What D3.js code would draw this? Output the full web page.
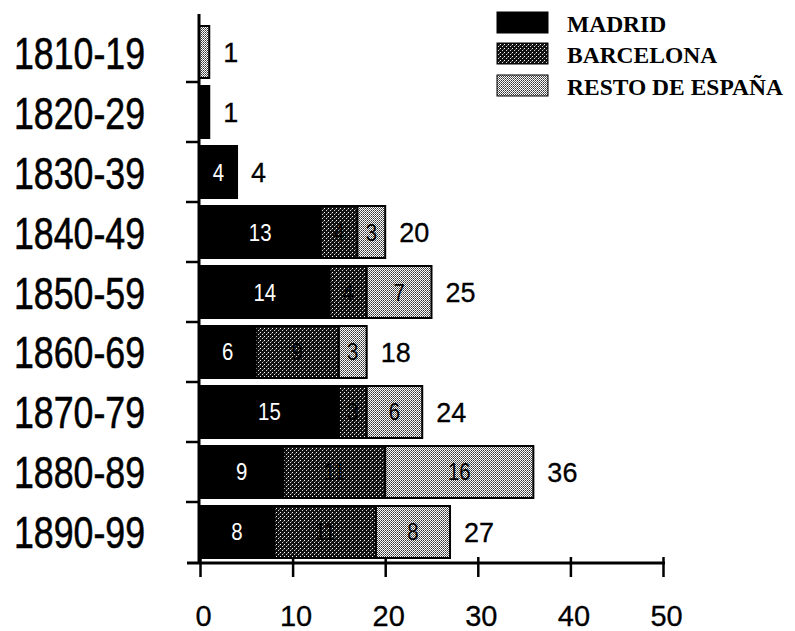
<!DOCTYPE html>
<html><head><meta charset="utf-8">
<script src="https://cdn.jsdelivr.net/npm/d3@7"></script>
<style>body{margin:0;background:#fff} svg{display:block}</style>
</head><body><svg id="c" width="795" height="631"></svg>
<script>
const categories = ["1810-19","1820-29","1830-39","1840-49","1850-59","1860-69","1870-79","1880-89","1890-99"];
const madrid    = [0, 1, 4, 13, 14, 6, 15, 9, 8];
const barcelona = [0, 0, 0, 4, 4, 9, 3, 11, 11];
const resto     = [1, 0, 0, 3, 7, 3, 6, 16, 8];
const totals    = [1, 1, 4, 20, 25, 18, 24, 36, 27];
const seriesNames = ["MADRID", "BARCELONA", "RESTO DE ESPAÑA"];
const xTicks = [0, 10, 20, 30, 40, 50];

const svg = d3.select("#c");
const defs = svg.append("defs");
// Barcelona texture: dark with sparse white dots
const pb = defs.append("pattern").attr("id","pBar").attr("patternUnits","userSpaceOnUse").attr("width",4).attr("height",4);
pb.append("rect").attr("width",4).attr("height",4).attr("fill","#111");
pb.append("rect").attr("x",0).attr("y",0).attr("width",1).attr("height",1).attr("fill","#fff");
pb.append("rect").attr("x",2).attr("y",2).attr("width",1).attr("height",1).attr("fill","#ddd");
pb.append("rect").attr("x",3).attr("y",1).attr("width",1).attr("height",1).attr("fill","#666");
// Resto texture: light with dense dark dots
const pr = defs.append("pattern").attr("id","pRes").attr("patternUnits","userSpaceOnUse").attr("width",2).attr("height",2);
pr.append("rect").attr("width",2).attr("height",2).attr("fill","#fff");
pr.append("rect").attr("x",1).attr("y",0).attr("width",1).attr("height",1).attr("fill","#333");
pr.append("rect").attr("x",0).attr("y",1).attr("width",1).attr("height",1).attr("fill","#666");

const fills = ["#000", "url(#pBar)", "url(#pRes)"];

const x = d3.scaleLinear().domain([0, 50]).range([200, 663]);
const y = d3.scaleBand().domain(categories).range([22, 562]).paddingInner(0.1333).paddingOuter(0.0667);

const rows = categories.map((c, i) => ({cat: c, m: madrid[i], b: barcelona[i], r: resto[i], t: totals[i]}));
const stack = d3.stack().keys(["m","b","r"]);
const layers = stack(rows);

const sansFont = "'Liberation Sans', Arial, Helvetica, sans-serif";

// bars
layers.forEach((layer, li) => {
  svg.append("g").selectAll("rect").data(layer.filter(d => d[1] - d[0] > 0)).join("rect")
    .attr("x", d => x(d[0]) - (d[0] === 0 ? 1 : 0))
    .attr("y", d => y(d.data.cat))
    .attr("width", d => x(d[1]) - x(d[0]) + (d[0] === 0 ? 1 : 0))
    .attr("height", y.bandwidth())
    .attr("fill", fills[li])
    .attr("stroke", "#000").attr("stroke-width", 2);
});

// inner labels
const condense = (sel, f) => sel.each(function(){ const w = this.getComputedTextLength(); d3.select(this).attr("textLength", w*f).attr("lengthAdjust","spacingAndGlyphs"); });
const labelColors = ["#fff", "#000", "#000"];
layers.forEach((layer, li) => {
  svg.append("g").selectAll("text").data(layer.filter(d => d[1] - d[0] >= 3)).join("text")
    .attr("x", d => (x(d[0]) + x(d[1])) / 2)
    .attr("y", d => y(d.data.cat) + y.bandwidth()/2 + 8.5)
    .attr("text-anchor", "middle")
    .attr("font-family", sansFont).attr("font-size", 24)
    .attr("fill", labelColors[li])
    .text(d => d[1] - d[0])
    .call(condense, 0.85);
});

// totals
svg.append("g").selectAll("text").data(rows).join("text")
  .attr("x", d => x(d.t) + 14)
  .attr("y", d => y(d.cat) + y.bandwidth()/2 + 10)
  .attr("font-family", sansFont).attr("font-size", 27)
  .attr("fill", "#000").attr("stroke", "#000").attr("stroke-width", 0.3)
  .text(d => d.t);

// category labels
svg.append("g").selectAll("text").data(categories).join("text")
  .attr("x", 14)
  .attr("y", d => y(d) + y.bandwidth()/2 + 16.5)
  .attr("font-family", sansFont).attr("font-size", 45)
  .attr("textLength", 131).attr("lengthAdjust", "spacingAndGlyphs")
  .attr("fill", "#000").attr("stroke", "#000").attr("stroke-width", 0.6)
  .text(d => d);

// vertical axis with ticks at band boundaries
svg.append("line").attr("x1", 199).attr("x2", 199).attr("y1", 14).attr("y2", 564)
  .attr("stroke", "#000").attr("stroke-width", 3);
const bounds = categories.slice(1).map(c => y(c) - y.step()*y.paddingInner()/2);
svg.append("g").selectAll("line").data(bounds).join("line")
  .attr("x1", 186).attr("x2", 199).attr("y1", d => d).attr("y2", d => d)
  .attr("stroke", "#000").attr("stroke-width", 2.5);

// x axis
const xAxis = svg.append("g").attr("transform", "translate(0,563)")
  .call(d3.axisBottom(x).tickValues(xTicks).tickSize(14).tickPadding(0).tickFormat(d3.format("d")));
xAxis.select(".domain").remove();
xAxis.append("line").attr("x1", 187).attr("x2", 665).attr("y1", 0).attr("y2", 0).attr("stroke", "#000").attr("stroke-width", 3);
xAxis.selectAll(".tick line").attr("y1", -6).attr("y2", 14).attr("stroke", "#000").attr("stroke-width", 2.5);
xAxis.selectAll(".tick text").attr("y", 63).attr("dy", null).attr("dx", 3)
  .attr("font-family", sansFont).attr("font-size", 29).attr("fill", "#000")
  .attr("stroke", "#000").attr("stroke-width", 0.3);

// legend
const leg = svg.append("g");
seriesNames.forEach((n, i) => {
  const yy = [12, 43, 75][i];
  leg.append("rect").attr("x", 497).attr("y", yy).attr("width", 51).attr("height", 21)
    .attr("fill", fills[i]).attr("stroke", "#000").attr("stroke-width", 1);
  leg.append("text").attr("x", 567).attr("y", yy + 20)
    .attr("font-family", "'Liberation Serif', 'Times New Roman', serif").attr("font-weight", "bold")
    .attr("font-size", 23.5).attr("fill", "#000").text(n);
});
</script></body></html>
